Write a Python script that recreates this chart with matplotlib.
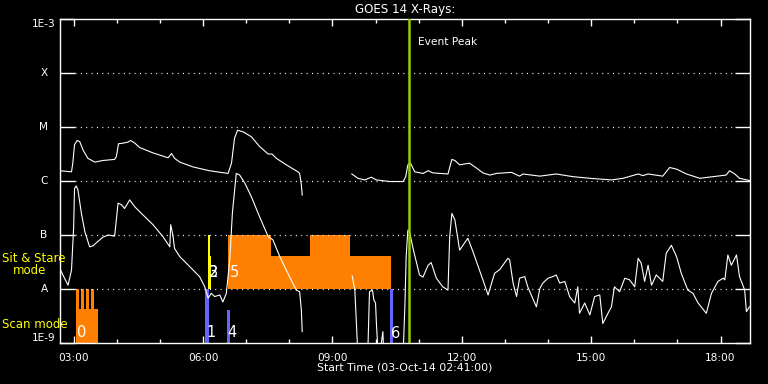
import numpy as np
import matplotlib
matplotlib.use("Agg")
import matplotlib.pyplot as plt
from matplotlib.ticker import FixedLocator, NullFormatter

# time in hours (UT, 03-Oct-2014), flux as log10(W/m^2)
T_START = 2 + 41 / 60
T_END = T_START + 16
PEAK_T = 10.77

long1_t = [2.68, 2.95, 2.98, 3.02, 3.08, 3.14, 3.22, 3.33, 3.49, 3.68, 3.95, 3.99, 4.04, 4.14, 4.26,
           4.32, 4.42, 4.53, 4.84, 5.19, 5.27, 5.34, 5.46, 5.77, 6.15, 6.58, 6.66, 6.73, 6.80, 6.93,
           7.12, 7.31, 7.51, 7.60, 7.70, 7.93, 8.20, 8.24, 8.28, 8.30]
long1_log = [-5.81, -5.83, -5.67, -5.33, -5.25, -5.27, -5.43, -5.58, -5.65, -5.62, -5.60, -5.55, -5.31, -5.30, -5.28,
             -5.25, -5.30, -5.38, -5.48, -5.57, -5.49, -5.58, -5.65, -5.74, -5.81, -5.86, -5.67, -5.21, -5.06, -5.09,
             -5.18, -5.36, -5.50, -5.50, -5.58, -5.70, -5.83, -5.86, -6.07, -6.26]

long2_t = [9.45, 9.59, 9.75, 9.90, 10.02, 10.33, 10.64, 10.70, 10.75, 10.81, 10.91, 11.10, 11.22, 11.33, 11.68,
           11.77, 11.84, 11.95, 12.18, 12.34, 12.49, 12.65, 12.80, 13.15, 13.34, 13.42, 13.81, 14.19, 14.58, 14.97,
           15.47, 15.74, 16.09, 16.20, 16.32, 16.66, 16.82, 16.98, 17.21, 17.52, 17.82, 18.13, 18.21, 18.33, 18.44,
           18.67]
long2_log = [-5.87, -5.95, -5.98, -5.93, -5.98, -6.01, -6.01, -5.92, -5.70, -5.67, -5.83, -5.86, -5.81, -5.85, -5.87,
             -5.60, -5.62, -5.70, -5.67, -5.76, -5.85, -5.89, -5.86, -5.84, -5.91, -5.87, -5.91, -5.87, -5.92, -5.95,
             -5.98, -5.95, -5.87, -5.90, -5.87, -5.91, -5.75, -5.78, -5.87, -5.95, -5.92, -5.89, -5.81, -5.87, -5.95,
             -5.99]

short1_t = [2.68, 2.75, 2.87, 2.95, 3.00, 3.02, 3.06, 3.10, 3.18, 3.26, 3.37, 3.45, 3.56, 3.68, 3.80,
            3.95, 4.03, 4.11, 4.18, 4.30, 4.42, 4.61, 4.84, 5.07, 5.23, 5.25, 5.30, 5.34, 5.46, 5.61,
            5.77, 5.92, 6.04, 6.12, 6.19, 6.27, 6.39, 6.46, 6.54, 6.62, 6.68, 6.77, 6.85, 6.97, 7.12,
            7.31, 7.51, 7.62, 7.78, 7.93, 8.16, 8.24, 8.28, 8.30]
short1_log = [-7.62, -7.74, -7.93, -7.65, -6.85, -6.14, -6.09, -6.17, -6.60, -6.94, -7.22, -7.20, -7.12, -7.04, -7.00,
              -7.02, -6.41, -6.44, -6.51, -6.35, -6.48, -6.63, -6.81, -7.03, -7.22, -6.81, -7.00, -7.25, -7.40, -7.52,
              -7.65, -7.77, -7.96, -8.17, -8.08, -8.14, -8.11, -8.24, -8.08, -7.46, -6.60, -5.86, -5.89, -6.04, -6.29,
              -6.66, -7.03, -7.09, -7.40, -7.65, -8.02, -8.05, -8.39, -8.79]

short2_t = [9.46, 9.52, 9.59]
short2_log = [-7.76, -8.02, -9.2]
short3_t = [9.82, 9.86, 9.93, 9.96, 10.00, 10.02, 10.06]
short3_log = [-9.2, -8.05, -8.02, -8.20, -8.26, -8.63, -9.2]
short4_t = [10.10, 10.17, 10.19]
short4_log = [-9.2, -8.79, -9.2]

short5_t = [10.64, 10.68, 10.71, 10.75, 10.79, 10.87, 11.02, 11.10, 11.22, 11.29, 11.41, 11.56, 11.68, 11.72, 11.77,
            11.84, 11.95, 12.14, 12.26, 12.45, 12.61, 12.76, 12.88, 13.07, 13.11, 13.19, 13.27, 13.34, 13.46, 13.53,
            13.61, 13.73, 13.81, 13.88, 14.00, 14.11, 14.19, 14.27, 14.39, 14.50, 14.62, 14.69, 14.73, 14.85, 14.97,
            15.08, 15.20, 15.27, 15.39, 15.47, 15.54, 15.66, 15.78, 15.89, 16.01, 16.09, 16.16, 16.24, 16.32, 16.40,
            16.51, 16.66, 16.74, 16.86, 16.98, 17.09, 17.24, 17.36, 17.48, 17.67, 17.79, 17.94, 18.06, 18.10, 18.17,
            18.25, 18.37, 18.44, 18.56, 18.60, 18.67]
short5_log = [-9.2, -8.33, -7.40, -6.91, -6.94, -7.25, -7.74, -7.78, -7.56, -7.51, -7.80, -7.96, -8.02, -7.03, -6.60,
              -6.72, -7.28, -7.06, -7.31, -7.74, -8.11, -7.71, -7.64, -7.43, -7.46, -7.89, -8.14, -7.80, -7.77, -7.96,
              -8.11, -8.33, -7.99, -7.89, -7.80, -7.77, -7.74, -7.89, -7.86, -8.14, -8.26, -7.96, -8.45, -8.26, -8.48,
              -8.14, -8.11, -8.64, -8.45, -8.33, -7.96, -8.05, -7.80, -7.83, -7.96, -7.43, -7.52, -7.86, -7.56, -7.93,
              -7.74, -7.86, -7.34, -7.19, -7.40, -7.71, -8.02, -8.08, -8.26, -8.45, -8.08, -7.86, -7.80, -7.83, -7.37,
              -7.56, -7.37, -7.77, -8.02, -8.42, -8.33]

# sit & stare pointing blocks (between A and B levels)
ss_start = [6.59, 7.57, 8.47, 9.40]
ss_end = [7.57, 8.47, 9.40, 10.35]
ss_top = [1e-7, 4e-8, 1e-7, 4e-8]

# scan mode blocks
scan_start = [3.05]
scan_end = [3.56]
scan_top = [4.3e-9]
strip_start = [3.05, 3.165, 3.28, 3.395]
strip_width = 0.075

blue_start = [6.04, 6.55, 10.33]
blue_width = [0.09, 0.07, 0.07]
blue_top = [1e-8, 4.1e-9, 1e-8]

yellow_start = [6.11, 6.155]
yellow_width = [0.045, 0.03]
yellow_top = [1e-7, 4e-8]

# event numbers: (label, time, log flux)
event_labels = ["0", "1", "4", "2", "3", "5", "6"]
event_t = [3.07, 6.08, 6.57, 6.13, 6.14, 6.62, 10.37]
event_log = [-8.80, -8.80, -8.80, -7.69, -7.69, -7.69, -8.83]

levels = [1e-9, 1e-8, 1e-7, 1e-6, 1e-5, 1e-4, 1e-3]
level_names = ["1E-9", "A", "B", "C", "M", "X", "1E-3"]
hour_ticks = [3, 6, 9, 12, 15, 18]

ORANGE = "#ff8000"
BLUE = "#6464ff"
YELLOW = "#ffff00"
PEAK = "#99cc00"

fig = plt.figure(figsize=(7.68, 3.84), dpi=100, facecolor="black")
ax = fig.add_axes([60 / 768, 1 - 343 / 384, 690 / 768, 324 / 384], facecolor="black")
ax.set_yscale("log")
ax.set_xlim(T_START, T_END)
ax.set_ylim(1e-9, 1e-3)

# mode blocks
ax.bar(ss_start, np.array(ss_top) - 1e-8, width=np.subtract(ss_end, ss_start), bottom=1e-8,
       align="edge", color=ORANGE, linewidth=0, zorder=1)
ax.bar(scan_start, np.array(scan_top) - 1e-9, width=np.subtract(scan_end, scan_start), bottom=1e-9,
       align="edge", color=ORANGE, linewidth=0, zorder=1)
ax.bar(strip_start, 1e-8 - 1e-9, width=strip_width, bottom=1e-9,
       align="edge", color=ORANGE, linewidth=0, zorder=1)
ax.bar(blue_start, np.array(blue_top) - 1e-9, width=blue_width, bottom=1e-9,
       align="edge", color=BLUE, linewidth=0, zorder=1)
ax.bar(yellow_start, np.array(yellow_top) - 1e-8, width=yellow_width, bottom=1e-8,
       align="edge", color=YELLOW, linewidth=0, zorder=1)

# dotted level lines
for lv in levels[1:-1]:
    ax.axhline(lv, xmin=15 / 690, xmax=1 - 15 / 690, color="white", lw=0.9,
               ls=(0, (0.8, 3.5)), zorder=2)

# flux curves
for t, lg in [(long1_t, long1_log), (long2_t, long2_log), (short1_t, short1_log),
              (short2_t, short2_log), (short3_t, short3_log), (short4_t, short4_log),
              (short5_t, short5_log)]:
    ax.plot(t, 10 ** np.array(lg), color="white", lw=0.8, zorder=3)

ax.axvline(PEAK_T, color=PEAK, lw=1.8, zorder=4)
ax.text(PEAK_T + 0.21, 10 ** -3.435, "Event Peak", color="white", fontsize=7.7,
        ha="left", va="center")

for lab, t, lg in zip(event_labels, event_t, event_log):
    ax.text(t, 10 ** lg, lab, color="white", fontsize=10.5, ha="left", va="center", zorder=5)

# axes styling
for sp in ax.spines.values():
    sp.set_color("white")
    sp.set_linewidth(1.0)

ax.yaxis.set_major_locator(FixedLocator(levels))
ax.yaxis.set_minor_locator(FixedLocator([]))
ax.yaxis.set_major_formatter(NullFormatter())
ax.tick_params(axis="y", which="major", direction="in", length=10.8, width=1.0,
               color="white", left=True, right=True)

ax.xaxis.set_major_locator(FixedLocator(hour_ticks))
ax.xaxis.set_minor_locator(FixedLocator(np.arange(3, 19)))
ax.set_xticklabels(["%02d:00" % h for h in hour_ticks])
ax.tick_params(axis="x", which="major", direction="in", length=5, width=1.0,
               color="white", top=True, bottom=True, labelcolor="white",
               labelsize=7.6, pad=7)
ax.tick_params(axis="x", which="minor", direction="in", length=2.8, width=1.0,
               color="white", top=True, bottom=True)

# level labels
for lv, name in zip(levels, level_names):
    va = "center"
    if name == "1E-3":
        va = "top"
    elif name == "1E-9":
        va = "bottom"
    ax.text(-16 / 690, lv, name, transform=ax.get_yaxis_transform(), color="white",
            fontsize=7.6, ha="center", va=va)

fig.text(2 / 768, 1 - 259 / 384, "Sit & Stare", color=YELLOW, fontsize=8.5, ha="left", va="center")
fig.text(13 / 768, 1 - 271 / 384, "mode", color=YELLOW, fontsize=8.5, ha="left", va="center")
fig.text(2 / 768, 1 - 324 / 384, "Scan mode", color=YELLOW, fontsize=8.5, ha="left", va="center")

fig.text(405 / 768, 1 - 9 / 384, "GOES 14 X-Rays:", color="white", fontsize=8.6, ha="center", va="center")
fig.text(405 / 768, 1 - 368 / 384, "Start Time (03-Oct-14 02:41:00)", color="white", fontsize=7.8,
         ha="center", va="center")

fig.savefig("out.png", dpi=100, facecolor="black")
